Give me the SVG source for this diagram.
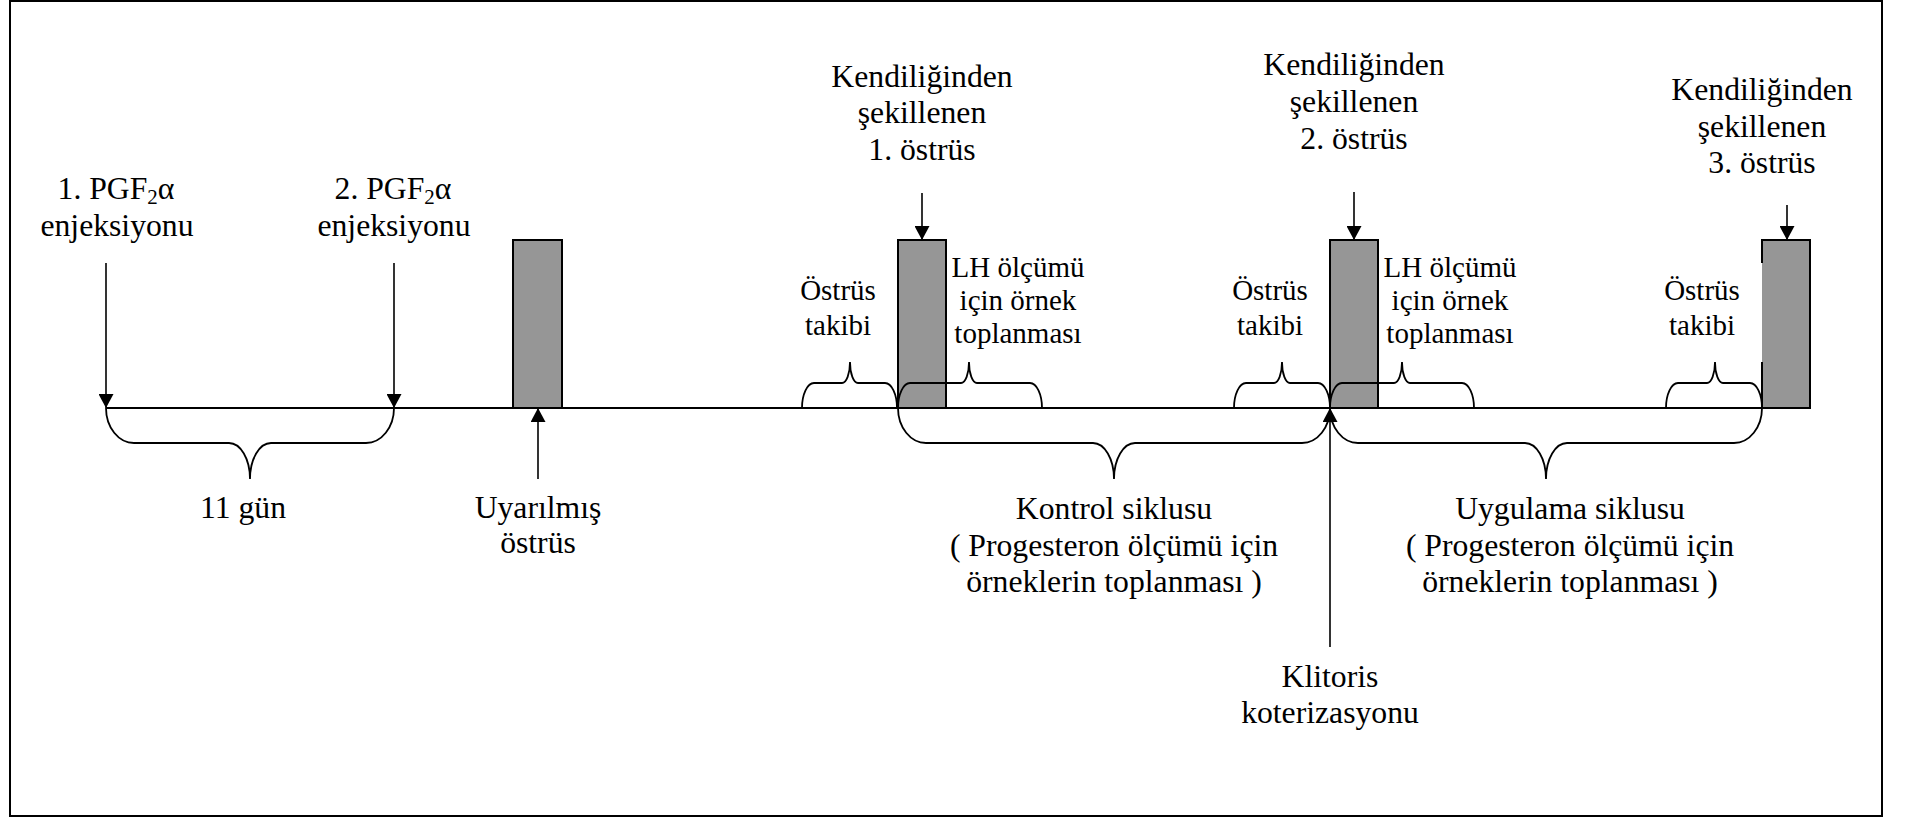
<svg xmlns="http://www.w3.org/2000/svg" width="1906" height="818" viewBox="0 0 1906 818">
  <style>
    .frame { fill: #ffffff; stroke: #000000; stroke-width: 2; }
    .bar { fill: #969696; stroke: #000000; stroke-width: 2; }
    .barfill { fill: #969696; stroke: none; }
    .edge { fill: none; stroke: #000000; stroke-width: 2; }
    .axis { fill: none; stroke: #000000; stroke-width: 2; }
    .brace { fill: none; stroke: #000000; stroke-width: 1.8; }
    .arrow { fill: none; stroke: #000000; stroke-width: 1.6; marker-end: url(#head); }
    text { font-family: "Liberation Serif", "Times New Roman", serif; fill: #000000; text-anchor: middle; }
    .big { font-size: 31.7px; }
    .small { font-size: 29px; }
  </style>
  <defs>
    <marker id="head" viewBox="0 0 15 16" refX="15" refY="8" markerWidth="17" markerHeight="15" markerUnits="userSpaceOnUse" orient="auto">
      <path d="M0,0 L15,8 L0,16 Z" fill="#000000"/>
    </marker>
  </defs>

  <rect class="frame" x="10" y="1" width="1872" height="815"/>

  <!-- oestrus bars -->
  <g id="bar-induced">
    <rect class="bar" x="513" y="240" width="49" height="168"/>
  </g>
  <g id="bar-spontaneous-1">
    <rect class="bar" x="898" y="240" width="48" height="168"/>
  </g>
  <g id="bar-spontaneous-2">
    <rect class="bar" x="1330" y="240" width="48" height="168"/>
  </g>
  <g id="bar-spontaneous-3">
    <rect class="barfill" x="1762" y="240" width="48" height="168"/>
    <path class="edge" d="M1762,263 L1762,240 L1810,240 L1810,408 M1762,362 L1762,408"/>
  </g>

  <!-- time axis, braces and arrows -->
  <g id="connectors">
    <line class="axis" x1="106" y1="408" x2="1811" y2="408"/>

    <!-- braces below the axis -->
    <path class="brace" d="M106,408 A28 35 0 0 0 134,443 L229,443 A21 36 0 0 1 250,479 A21 36 0 0 1 271,443 L366,443 A28 35 0 0 0 394,408"/>
    <path class="brace" d="M898,408 A28 35 0 0 0 926,443 L1093,443 A21 36 0 0 1 1114,479 A21 36 0 0 1 1135,443 L1302,443 A28 35 0 0 0 1330,408"/>
    <path class="brace" d="M1330,408 A28 35 0 0 0 1358,443 L1525,443 A21 36 0 0 1 1546,479 A21 36 0 0 1 1567,443 L1734,443 A28 35 0 0 0 1762,408"/>

    <!-- braces above the axis -->
    <path class="brace" d="M802,408 A12 25 0 0 1 814,383 L842,383 A8 21 0 0 0 850,362 A8 21 0 0 0 858,383 L885,383 A12 25 0 0 1 897,408"/>
    <path class="brace" d="M898,408 A12 25 0 0 1 910,383 L961,383 A8 21 0 0 0 969,362 A8 21 0 0 0 977,383 L1030,383 A12 25 0 0 1 1042,408"/>
    <path class="brace" d="M1234,408 A12 25 0 0 1 1246,383 L1274,383 A8 21 0 0 0 1282,362 A8 21 0 0 0 1290,383 L1318,383 A12 25 0 0 1 1330,408"/>
    <path class="brace" d="M1330,408 A12 25 0 0 1 1342,383 L1394,383 A8 21 0 0 0 1402,362 A8 21 0 0 0 1410,383 L1462,383 A12 25 0 0 1 1474,408"/>
    <path class="brace" d="M1666,408 A12 25 0 0 1 1678,383 L1707,383 A8 21 0 0 0 1715,362 A8 21 0 0 0 1723,383 L1750,383 A12 25 0 0 1 1762,408"/>

    <!-- event arrows -->
    <line class="arrow" x1="106" y1="263" x2="106" y2="408"/>
    <line class="arrow" x1="394" y1="263" x2="394" y2="408"/>
    <line class="arrow" x1="538" y1="479" x2="538" y2="408"/>
    <line class="arrow" x1="922" y1="193" x2="922" y2="240"/>
    <line class="arrow" x1="1354" y1="192" x2="1354" y2="240"/>
    <line class="arrow" x1="1787" y1="205" x2="1787" y2="240"/>
    <line class="arrow" x1="1330" y1="647" x2="1330" y2="408"/>
  </g>

  <!-- labels -->
  <g id="label-pgf-1">
    <text class="big" x="116" y="199">1. PGF<tspan font-size="21px" dy="5">2</tspan><tspan dy="-5">α</tspan></text>
    <text class="big" x="117" y="236">enjeksiyonu</text>
  </g>
  <g id="label-pgf-2">
    <text class="big" x="393" y="199">2. PGF<tspan font-size="21px" dy="5">2</tspan><tspan dy="-5">α</tspan></text>
    <text class="big" x="394" y="236">enjeksiyonu</text>
  </g>
  <g id="label-interval">
    <text class="big" x="243" y="518">11 gün</text>
  </g>
  <g id="label-induced">
    <text class="big" x="538" y="518">Uyarılmış</text>
    <text class="big" x="538" y="553">östrüs</text>
  </g>
  <g id="label-spontaneous-1">
    <text class="big" x="922" y="87">Kendiliğinden</text>
    <text class="big" x="922" y="123">şekillenen</text>
    <text class="big" x="922" y="160">1. östrüs</text>
  </g>
  <g id="label-spontaneous-2">
    <text class="big" x="1354" y="75">Kendiliğinden</text>
    <text class="big" x="1354" y="112">şekillenen</text>
    <text class="big" x="1354" y="149">2. östrüs</text>
  </g>
  <g id="label-spontaneous-3">
    <text class="big" x="1762" y="100">Kendiliğinden</text>
    <text class="big" x="1762" y="137">şekillenen</text>
    <text class="big" x="1762" y="173">3. östrüs</text>
  </g>
  <g id="label-detection-1">
    <text class="small" x="838" y="300">Östrüs</text>
    <text class="small" x="838" y="335">takibi</text>
  </g>
  <g id="label-detection-2">
    <text class="small" x="1270" y="300">Östrüs</text>
    <text class="small" x="1270" y="335">takibi</text>
  </g>
  <g id="label-detection-3">
    <text class="small" x="1702" y="300">Östrüs</text>
    <text class="small" x="1702" y="335">takibi</text>
  </g>
  <g id="label-lh-1">
    <text class="small" x="1018" y="277">LH ölçümü</text>
    <text class="small" x="1018" y="310">için örnek</text>
    <text class="small" x="1018" y="343">toplanması</text>
  </g>
  <g id="label-lh-2">
    <text class="small" x="1450" y="277">LH ölçümü</text>
    <text class="small" x="1450" y="310">için örnek</text>
    <text class="small" x="1450" y="343">toplanması</text>
  </g>
  <g id="label-control">
    <text class="big" x="1114" y="519">Kontrol siklusu</text>
    <text class="big" x="1114" y="556">( Progesteron ölçümü için</text>
    <text class="big" x="1114" y="592">örneklerin toplanması )</text>
  </g>
  <g id="label-treatment">
    <text class="big" x="1570" y="519">Uygulama siklusu</text>
    <text class="big" x="1570" y="556">( Progesteron ölçümü için</text>
    <text class="big" x="1570" y="592">örneklerin toplanması )</text>
  </g>
  <g id="label-cautery">
    <text class="big" x="1330" y="687">Klitoris</text>
    <text class="big" x="1330" y="723">koterizasyonu</text>
  </g>
</svg>
